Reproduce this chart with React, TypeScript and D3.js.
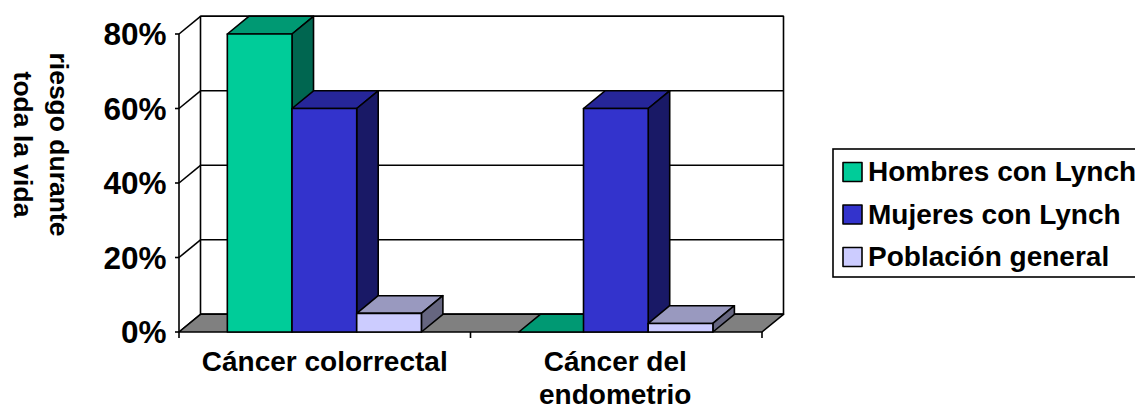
import React from "react";
import * as d3 from "d3";

const categories = ["Cáncer colorrectal", "Cáncer del endometrio"];
const categoryLines = [["Cáncer colorrectal"], ["Cáncer del", "endometrio"]];
const seriesNames = ["Hombres con Lynch", "Mujeres con Lynch", "Población general"];
const hombres = [80, 0];
const mujeres = [60, 60];
const poblacion = [5, 2.3];
const seriesValues = [hombres, mujeres, poblacion];
const tickValues = [0, 20, 40, 60, 80];
const titleLines = ["riesgo durante", "toda la vida"];
const frontColors = ["#00CC99", "#3333CC", "#CCCCFF"];
const topColors = ["#009973", "#262699", "#9999BF"];
const sideColors = ["#006650", "#191966", "#666680"];

const FONT = "'Liberation Sans', Arial, sans-serif";
const DX = 21.5;
const DY = -17.7;

export default function App() {
  const y = d3.scaleLinear().domain([0, 80]).range([332, 34]);
  const x = d3.scaleBand<string>().domain(categories).range([179, 762]);
  const inner = d3
    .scaleBand<number>()
    .domain([0, 1, 2])
    .range([0, x.bandwidth()])
    .paddingOuter(0.753)
    .paddingInner(0)
    .align(0.496);
  const pts = (a: number[][]) => a.map((p) => p.join(",")).join(" ");
  const [x0, x1] = x.range();
  const y0 = y(0);
  const stroke = { stroke: "#000", strokeWidth: 1.6, strokeLinejoin: "round" as const };
  return (
    <svg
      width={1135}
      height={406}
      style={{ position: "absolute", left: 0, top: 0, background: "#fff" }}
      fontFamily={FONT}
      fontWeight="bold"
    >
      {/* back wall */}
      <rect x={x0 + DX} y={y(80) + DY} width={x1 - x0} height={y0 - y(80)} fill="#fff" {...stroke} />
      {tickValues.map((t) => (
        <g key={t}>
          <line x1={x0 + DX} x2={x1 + DX} y1={y(t) + DY} y2={y(t) + DY} {...stroke} />
          <line x1={x0} x2={x0 + DX} y1={y(t)} y2={y(t) + DY} {...stroke} />
          <line x1={x0 - 4} x2={x0} y1={y(t)} y2={y(t)} {...stroke} />
          <text x={166.5} y={y(t) + 11} textAnchor="end" fontSize={31.5}>
            {t}%
          </text>
        </g>
      ))}
      {/* floor */}
      <polygon
        points={pts([[x0, y0], [x1, y0], [x1 + DX, y0 + DY], [x0 + DX, y0 + DY]])}
        fill="#808080"
        {...stroke}
      />
      <line x1={x0} x2={x0} y1={y(80)} y2={y0} {...stroke} />
      {/* axis */}
      {[x0, x0 + x.bandwidth(), x1].map((t) => (
        <line key={t} x1={t} x2={t} y1={y0} y2={y0 + 6} {...stroke} />
      ))}
      {/* bars */}
      {categories.map((c, ci) =>
        seriesValues.map((vals, si) => {
          const left = (x(c) as number) + (inner(si) as number);
          const right = left + inner.bandwidth();
          const top = y(vals[ci]);
          return (
            <g key={c + si}>
              <polygon
                points={pts([[left, top], [right, top], [right + DX, top + DY], [left + DX, top + DY]])}
                fill={topColors[si]}
                {...stroke}
              />
              <polygon
                points={pts([[right, top], [right + DX, top + DY], [right + DX, y0 + DY], [right, y0]])}
                fill={sideColors[si]}
                {...stroke}
              />
              {vals[ci] > 0 && (
                <rect x={left} y={top} width={right - left} height={y0 - top} fill={frontColors[si]} {...stroke} />
              )}
            </g>
          );
        })
      )}
      {/* category labels */}
      {categories.map((c, ci) =>
        categoryLines[ci].map((line, li) => (
          <text
            key={line}
            x={(x(c) as number) + x.bandwidth() / 2 + (ci === 0 ? 0 : -1)}
            y={371 + li * 33}
            textAnchor="middle"
            fontSize={28}
          >
            {line}
          </text>
        ))
      )}
      {/* y title */}
      {titleLines.map((line, i) => (
        <text
          key={line}
          transform={`translate(${50 - i * 36},${144.5}) rotate(90)`}
          textAnchor="middle"
          fontSize={26.5}
        >
          {line}
        </text>
      ))}
      {/* legend */}
      <rect x={833} y={149} width={320} height={128} fill="#fff" stroke="#000" strokeWidth={1.6} />
      {seriesNames.map((s, i) => (
        <g key={s}>
          <rect x={843} y={162.5 + i * 42.5} width={19} height={19} fill={frontColors[i]} {...stroke} />
          <text x={868} y={181 + i * 42.5} fontSize={28}>
            {s}
          </text>
        </g>
      ))}
    </svg>
  );
}
